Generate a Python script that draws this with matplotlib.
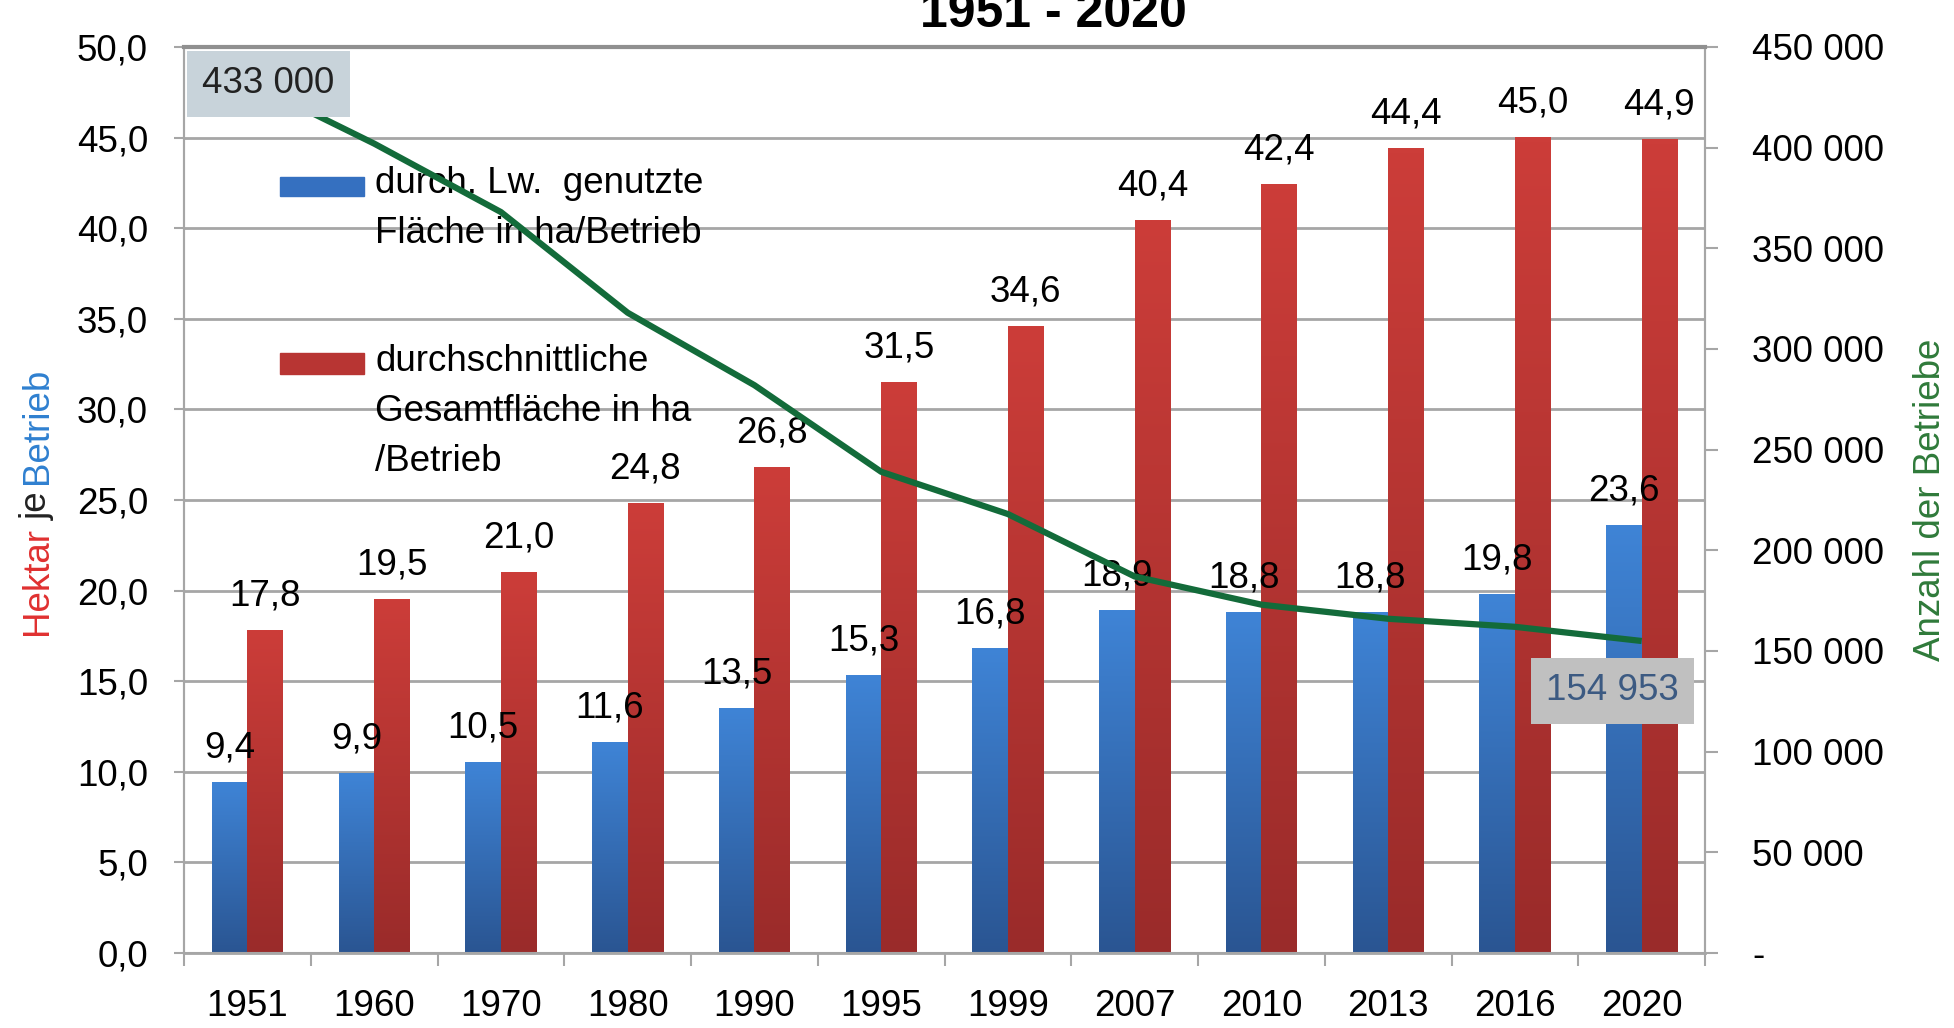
import matplotlib
matplotlib.use("Agg")
import matplotlib.pyplot as plt
import numpy as np
from matplotlib.colors import LinearSegmentedColormap
from matplotlib.ticker import FuncFormatter, MultipleLocator, FixedLocator
from matplotlib.patches import Rectangle

plt.rcParams["font.family"] = ["Liberation Sans", "DejaVu Sans"]

# Daten
years = ["1951", "1960", "1970", "1980", "1990", "1995", "1999", "2007", "2010", "2013", "2016", "2020"]
flaeche_lw = [9.4, 9.9, 10.5, 11.6, 13.5, 15.3, 16.8, 18.9, 18.8, 18.8, 19.8, 23.6]
flaeche_gesamt = [17.8, 19.5, 21.0, 24.8, 26.8, 31.5, 34.6, 40.4, 42.4, 44.4, 45.0, 44.9]
betriebe = [433000, 402000, 368000, 318000, 282000, 239000, 218000, 187000, 173000, 166000, 162000, 154953]

FS = 26.5
GRID = "#a6a6a6"


def de(v):
    return f"{v:.1f}".replace(".", ",")


def tausend(v, pos=None):
    if v == 0:
        return "-"
    return f"{int(v):,}".replace(",", " ")


def gradient(ax, bars, top, bottom):
    # Farbverlauf wie im Excel-Original
    cmap = LinearSegmentedColormap.from_list("g", [bottom, top])
    grad = np.linspace(0, 1, 256).reshape(-1, 1)
    for b in bars:
        x, w, h = b.get_x(), b.get_width(), b.get_height()
        ax.imshow(grad, extent=[x, x + w, 0, h], origin="lower", aspect="auto",
                  cmap=cmap, zorder=b.get_zorder() + 0.1, interpolation="bilinear")


fig = plt.figure(figsize=(19.54, 10.28), dpi=100)
ax = fig.add_axes([0.0942, 0.0730, 0.7784, 0.8813])
ax2 = ax.twinx()

x = np.arange(len(years))
w = 0.28
b1 = ax.bar(x - w / 2, flaeche_lw, w, color="#3570c0", zorder=2)
b2 = ax.bar(x + w / 2, flaeche_gesamt, w, color="#b83533", zorder=2)
gradient(ax, b1, "#3f84d6", "#2a5592")
gradient(ax, b2, "#cc3d39", "#9a2b2a")

for i in range(len(years)):
    ax.annotate(de(flaeche_lw[i]), (x[i] - w / 2, flaeche_lw[i]), xytext=(0, 18),
                textcoords="offset points", ha="center", va="baseline", fontsize=FS, zorder=4)
    ax.annotate(de(flaeche_gesamt[i]), (x[i] + w / 2, flaeche_gesamt[i]), xytext=(0, 18),
                textcoords="offset points", ha="center", va="baseline", fontsize=FS, zorder=4)

ax.set_xlim(-0.5, len(years) - 0.5)
ax.set_ylim(0, 50)
ax.yaxis.set_major_locator(MultipleLocator(5))
ax.yaxis.set_major_formatter(FuncFormatter(lambda v, p: de(v)))
ax.set_xticks(x)
ax.set_xticklabels(years)
ax.xaxis.set_minor_locator(FixedLocator(np.arange(-0.5, len(years), 1.0)))
ax.tick_params(axis="x", which="major", length=0, pad=26, labelsize=FS)
ax.tick_params(axis="x", which="minor", length=9, width=1.5, color=GRID, direction="out")
ax.tick_params(axis="y", length=7, width=1.5, color=GRID, pad=19, labelsize=FS)
ax.grid(axis="y", color=GRID, linewidth=2)
ax.set_axisbelow(True)
ax.spines["top"].set_visible(False)
for s in ["left", "bottom", "right"]:
    ax.spines[s].set_color(GRID)
    ax.spines[s].set_linewidth(1.5)
ax.spines["bottom"].set_linewidth(2)

# Linie Anzahl der Betriebe
ax2.plot(x, betriebe, color="#136b3a", linewidth=4.5, solid_capstyle="butt", zorder=3)
ax2.set_ylim(0, 450000)
ax2.yaxis.set_major_locator(MultipleLocator(50000))
ax2.yaxis.set_major_formatter(FuncFormatter(tausend))
ax2.tick_params(axis="y", length=9, width=1.5, color=GRID, pad=25, labelsize=FS)
ax2.spines["top"].set_color("#909090")
ax2.spines["top"].set_linewidth(3)
for s in ["left", "bottom", "right"]:
    ax2.spines[s].set_color(GRID)
    ax2.spines[s].set_linewidth(1.5)

ax2.annotate(tausend(betriebe[0]), (x[0], betriebe[0]), xytext=(15, -2), textcoords="offset points",
             ha="center", va="center", fontsize=FS, color="#222222", zorder=5,
             bbox=dict(boxstyle="square,pad=0.42", fc="#c8d3da", ec="none"))
ax2.annotate(tausend(betriebe[-1]), (x[-1], betriebe[-1]), xytext=(-21, -36), textcoords="offset points",
             ha="center", va="center", fontsize=FS, color="#3c5a82", zorder=5,
             bbox=dict(boxstyle="square,pad=0.42", fc="#c0c0c0", ec="none"))

# Legende
ax.add_patch(Rectangle((0.063, 0.8355), 0.055, 0.021, transform=ax.transAxes, color="#3570c0", zorder=4))
ax.add_patch(Rectangle((0.063, 0.639), 0.055, 0.023, transform=ax.transAxes, color="#b83533", zorder=4))
ax.text(0.1256, 0.822, "durch. Lw.  genutzte\nFläche in ha/Betrieb", transform=ax.transAxes,
        ha="left", va="center", fontsize=FS, linespacing=1.55, zorder=4)
ax.text(0.1256, 0.598, "durchschnittliche\nGesamtfläche in ha\n/Betrieb", transform=ax.transAxes,
        ha="left", va="center", fontsize=FS, linespacing=1.55, zorder=4)

# Achsentitel
t1 = fig.text(0.019, 0.382, "Hektar", rotation=90, ha="center", va="bottom", fontsize=FS, color="#e03030")
t2 = fig.text(0.019, 0.0, "je", rotation=90, ha="center", va="bottom", fontsize=FS, color="#222222")
t3 = fig.text(0.019, 0.0, "Betrieb", rotation=90, ha="center", va="bottom", fontsize=FS, color="#2f80d0")
fig.canvas.draw()
r = fig.canvas.get_renderer()
top = t1.get_window_extent(r).y1 / fig.bbox.height
t2.set_position((0.019, top + 0.007))
fig.canvas.draw()
top = t2.get_window_extent(r).y1 / fig.bbox.height
t3.set_position((0.019, top + 0.007))

fig.text(0.988, 0.514, "Anzahl der Betriebe", rotation=90, ha="center", va="center",
         fontsize=FS, color="#2f7a3a")

fig.text(0.539, 1 - 27 / 1028, "1951 - 2020", ha="center", va="baseline", fontsize=36, fontweight="bold")

fig.savefig("out.png", dpi=100, facecolor="white")
